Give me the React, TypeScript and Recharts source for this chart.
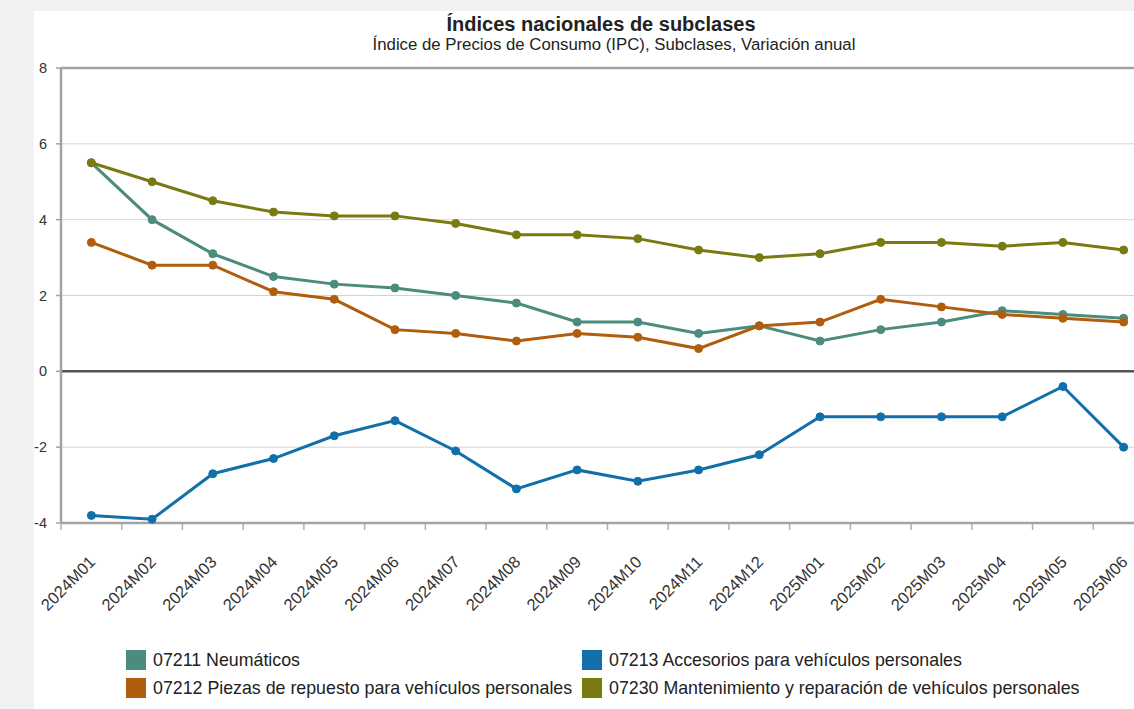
import { LineChart, Line, XAxis, YAxis, CartesianGrid, ReferenceLine } from 'recharts';

const months = [
  '2024M01', '2024M02', '2024M03', '2024M04', '2024M05', '2024M06',
  '2024M07', '2024M08', '2024M09', '2024M10', '2024M11', '2024M12',
  '2025M01', '2025M02', '2025M03', '2025M04', '2025M05', '2025M06',
];

const neumaticos = [5.5, 4.0, 3.1, 2.5, 2.3, 2.2, 2.0, 1.8, 1.3, 1.3, 1.0, 1.2, 0.8, 1.1, 1.3, 1.6, 1.5, 1.4];
const piezas = [3.4, 2.8, 2.8, 2.1, 1.9, 1.1, 1.0, 0.8, 1.0, 0.9, 0.6, 1.2, 1.3, 1.9, 1.7, 1.5, 1.4, 1.3];
const accesorios = [-3.8, -3.9, -2.7, -2.3, -1.7, -1.3, -2.1, -3.1, -2.6, -2.9, -2.6, -2.2, -1.2, -1.2, -1.2, -1.2, -0.4, -2.0];
const mantenimiento = [5.5, 5.0, 4.5, 4.2, 4.1, 4.1, 3.9, 3.6, 3.6, 3.5, 3.2, 3.0, 3.1, 3.4, 3.4, 3.3, 3.4, 3.2];

const yTicks = [-4, -2, 0, 2, 4, 6, 8];

const series = [
  { key: 'n', name: '07211 Neumáticos', color: '#4b8c7f', values: neumaticos },
  { key: 'p', name: '07212 Piezas de repuesto para vehículos personales', color: '#b05d0e', values: piezas },
  { key: 'a', name: '07213 Accesorios para vehículos personales', color: '#1170aa', values: accesorios },
  { key: 'm', name: '07230 Mantenimiento y reparación de vehículos personales', color: '#7a7a12', values: mantenimiento },
];

const data = months.map((m, i) => {
  const row: any = { month: m };
  series.forEach((s) => (row[s.key] = s.values[i]));
  return row;
});

const CHART_W = 1160;
const PLOT_LEFT = 61;
const MARGIN_RIGHT = 6;
const STEP = (CHART_W - PLOT_LEFT - MARGIN_RIGHT) / months.length;
const HALF = STEP / 2;

function XTick(props: any) {
  const { x, y, payload } = props;
  const tx = x + 5;
  const ty = y + 40;
  return (
    <g>
      <line x1={x - HALF} y1={y + 1} x2={x - HALF} y2={y + 7} stroke="#b0b0b0" strokeWidth={1.5} />
      <text
        x={tx}
        y={ty}
        textAnchor="end"
        fontSize={16.5}
        fill="#333"
        transform={`rotate(-45 ${tx} ${ty})`}
      >
        {payload.value}
      </text>
    </g>
  );
}

// legend goes column by column, two rows
const legendCols = [
  [series[0], series[1]],
  [series[2], series[3]],
];

export default function App() {
  return (
    <div
      style={{
        position: 'absolute',
        left: 0,
        top: 0,
        width: 1134,
        height: 709,
        overflow: 'hidden',
        background: '#f2f2f2',
        fontFamily: '"Liberation Sans", Arial, sans-serif',
      }}
    >
      <div style={{ position: 'absolute', left: 34, top: 11, width: 1100, height: 698, background: '#fff' }} />
      <div
        style={{
          position: 'absolute', left: 301, top: 13, width: 600, textAlign: 'center',
          color: '#222', fontSize: 20, fontWeight: 'bold', lineHeight: '22px', whiteSpace: 'nowrap',
        }}
      >
        Índices nacionales de subclases
      </div>
      <div
        style={{
          position: 'absolute', left: 314, top: 35, width: 600, textAlign: 'center',
          color: '#222', fontSize: 16.8, lineHeight: '20px', whiteSpace: 'nowrap',
        }}
      >
        Índice de Precios de Consumo (IPC), Subclases, Variación anual
      </div>
      <div style={{ position: 'absolute', left: 0, top: 0 }}>
        <LineChart
          width={CHART_W}
          height={623}
          data={data}
          margin={{ top: 68, right: MARGIN_RIGHT, left: 0, bottom: 0 }}
        >
          <CartesianGrid vertical={false} stroke="#d4d4d4" strokeWidth={1} />
          <XAxis
            dataKey="month"
            height={100}
            padding={{ left: HALF, right: HALF }}
            interval={0}
            tickLine={false}
            tickSize={0}
            tickMargin={0}
            tick={<XTick />}
            axisLine={{ stroke: '#a3a3a3', strokeWidth: 2.5 }}
          />
          <YAxis
            width={PLOT_LEFT}
            domain={[-4, 8]}
            ticks={yTicks}
            interval={0}
            tickSize={5}
            tickMargin={9}
            tick={{ fill: '#333', fontSize: 14.5 }}
            tickLine={{ stroke: '#a3a3a3', strokeWidth: 1.5 }}
            axisLine={{ stroke: '#a3a3a3', strokeWidth: 2.5 }}
          />
          <ReferenceLine y={8} stroke="#a3a3a3" strokeWidth={2.5} />
          <ReferenceLine y={0} stroke="#555" strokeWidth={2.5} />
          {series.map((s) => (
            <Line
              key={s.key}
              type="linear"
              dataKey={s.key}
              name={s.name}
              stroke={s.color}
              strokeWidth={3}
              dot={{ r: 4, fill: s.color, stroke: s.color, strokeWidth: 1 }}
              activeDot={false}
              isAnimationActive={false}
            />
          ))}
        </LineChart>
      </div>
      <div style={{ position: 'absolute', left: 126, top: 646, display: 'flex' }}>
        {legendCols.map((col, ci) => (
          <div key={ci} style={{ width: 456, flexShrink: 0 }}>
            {col.map((s) => (
              <div key={s.key} style={{ display: 'flex', alignItems: 'center', height: 28 }}>
                <div style={{ width: 20, height: 20, background: s.color, marginRight: 7, flexShrink: 0 }} />
                <span style={{ fontSize: 17.8, color: '#222', whiteSpace: 'nowrap' }}>{s.name}</span>
              </div>
            ))}
          </div>
        ))}
      </div>
    </div>
  );
}
